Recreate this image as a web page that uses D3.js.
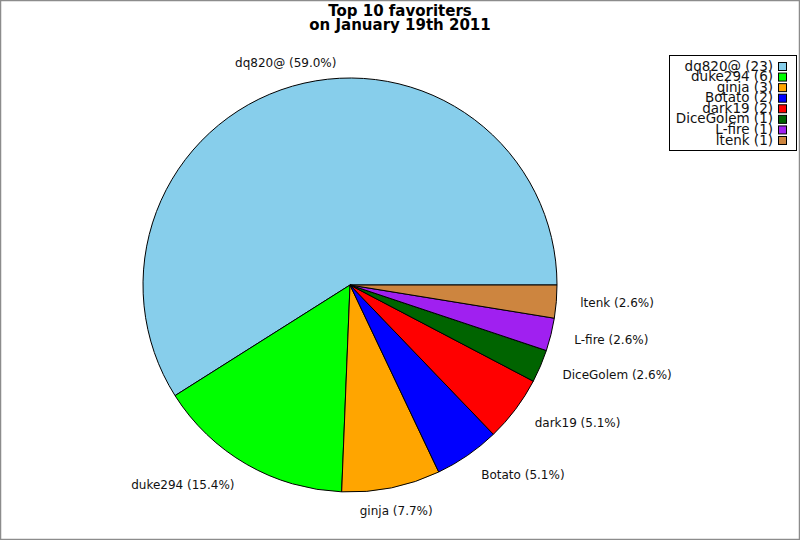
<!DOCTYPE html>
<html>
<head>
<meta charset="utf-8">
<script src="https://cdn.jsdelivr.net/npm/d3@7"></script>
<style>
  body { margin: 0; background: #fff; }
  svg { display: block; font-family: "DejaVu Sans", sans-serif; }
</style>
</head>
<body>
<div id="chart"></div>
<script>
const names = ["dq820@", "duke294", "ginja", "Botato", "dark19", "DiceGolem", "L-fire", "ltenk"];
const counts = [23, 6, 3, 2, 2, 1, 1, 1];
const colors = ["#87ceeb", "#00ff00", "#ffa500", "#0000ff", "#ff0000", "#006400", "#a020f0", "#cd853f"];

const width = 800;
const height = 540;
const cx = 350, cy = 285, radius = 207;

const svg = d3.select("#chart")
  .append("svg")
  .attr("width", width)
  .attr("height", height);

// outer frame
svg.append("rect")
  .attr("x", 0.5).attr("y", 0.5)
  .attr("width", width - 1).attr("height", height - 1)
  .attr("fill", "#fff")
  .attr("stroke", "#8c8c8c")
  .attr("stroke-width", 1.5);

// title
svg.append("text")
  .attr("x", 400).attr("y", 16)
  .attr("text-anchor", "middle")
  .style("font-size", "15px").style("font-weight", "bold")
  .text("Top 10 favoriters");
svg.append("text")
  .attr("x", 400).attr("y", 30)
  .attr("text-anchor", "middle")
  .style("font-size", "15px").style("font-weight", "bold")
  .text("on January 19th 2011");

const total = d3.sum(counts);
const data = names.map((n, i) => ({ name: n, value: counts[i], color: colors[i] }));

// counter-clockwise from 3 o'clock
const pie = d3.pie()
  .sort(null)
  .value(d => d.value)
  .startAngle(Math.PI / 2)
  .endAngle(Math.PI / 2 - 2 * Math.PI);

const arc = d3.arc().innerRadius(0).outerRadius(radius);
const labelArc = d3.arc().innerRadius(231).outerRadius(231);

const g = svg.append("g").attr("transform", `translate(${cx},${cy})`);
const arcs = pie(data);

g.selectAll("path.slice")
  .data(arcs)
  .join("path")
  .attr("class", "slice")
  .attr("d", arc)
  .attr("fill", d => d.data.color)
  .attr("stroke", "#000")
  .attr("stroke-width", 1);

g.selectAll("text.lbl")
  .data(arcs)
  .join("text")
  .attr("class", "lbl")
  .attr("transform", d => `translate(${labelArc.centroid(d)})`)
  .attr("dy", "0.3em")
  .attr("text-anchor", d => {
    const x = Math.sin((d.startAngle + d.endAngle) / 2);
    if (Math.abs(x) < 0.35) return "middle";
    return x > 0 ? "start" : "end";
  })
  .style("font-size", "12px")
  .style("fill", "#111")
  .text(d => `${d.data.name} (${(d.data.value / total * 100).toFixed(1)}%)`);

// legend
const legend = svg.append("g");
legend.append("rect")
  .attr("x", 669.5).attr("y", 55.5)
  .attr("width", 127).attr("height", 95)
  .attr("fill", "#fff")
  .attr("stroke", "#000");

const rowY = d3.scaleLinear().domain([0, 1]).range([66.5, 77.07]);

const rows = legend.selectAll("g.row")
  .data(data)
  .join("g")
  .attr("class", "row")
  .attr("transform", (d, i) => `translate(0,${rowY(i)})`);

rows.append("text")
  .attr("x", 773)
  .attr("dy", "0.3em")
  .attr("text-anchor", "end")
  .style("font-size", "13.5px")
  .style("fill", "#111")
  .text(d => `${d.name} (${d.value})`);

rows.append("rect")
  .attr("x", 778.5).attr("y", -4)
  .attr("width", 8).attr("height", 8)
  .attr("fill", d => d.color)
  .attr("stroke", "#000");
</script>
</body>
</html>
